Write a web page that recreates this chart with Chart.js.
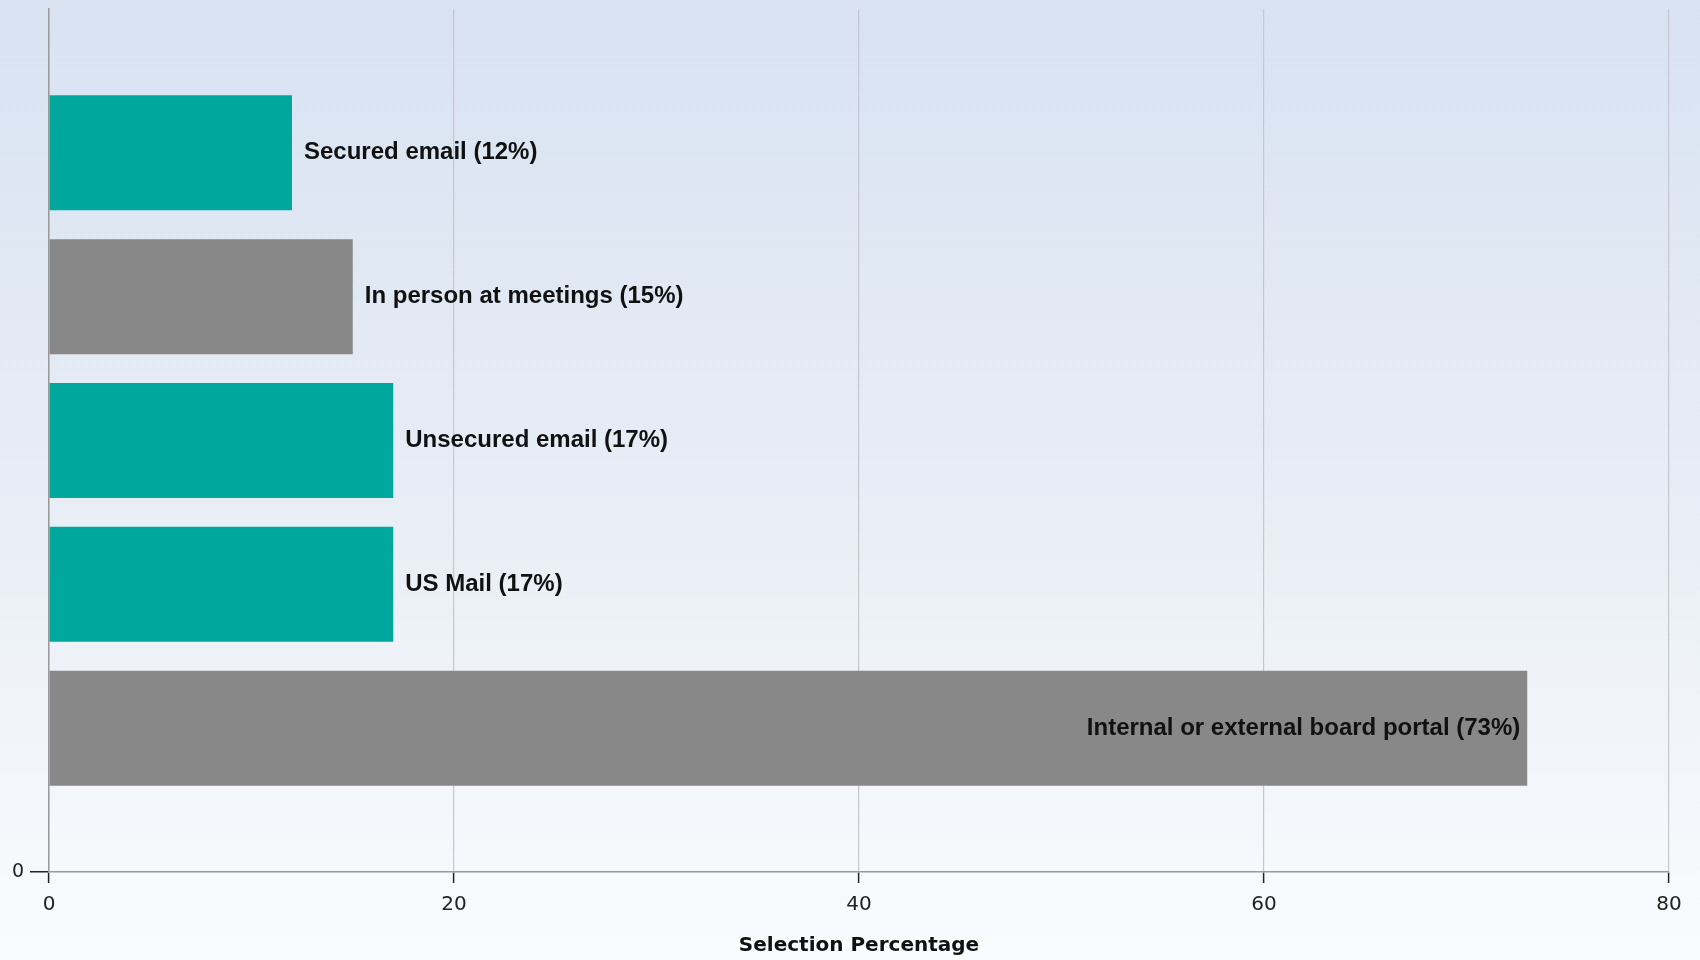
<!DOCTYPE html>
<html>
<head>
<meta charset="utf-8">
<script src="https://cdn.jsdelivr.net/npm/chart.js@4/dist/chart.umd.min.js"></script>
<style>
  html, body { margin: 0; padding: 0; background: #f4f6fb; }
  #wrap { width: 1700px; height: 960px; position: relative; }
</style>
</head>
<body>
<div id="wrap"><canvas id="chartSelection" width="1700" height="960"></canvas></div>
<script>
// ── Veri ─────────────────────────────────────────
const categories = [
  'Secured email',
  'In person at meetings',
  'Unsecured email',
  'US Mail',
  'Internal or external board portal'
];
const percentages = [12, 15, 17, 17, 73];
const barColors   = ['#00a79d', '#888888', '#00a79d', '#00a79d', '#888888'];
const xTicks      = [0, 20, 40, 60, 80];
const yTicks      = [0];

// bars sit on a numeric y axis: first category on top
const points = categories.map((c, i) => ({ x: percentages[i], y: categories.length - i }));

// ── Arka plan degrade ────────────────────────────
const bgPlugin = {
  id: 'bg-gradient',
  beforeDraw(chart) {
    const { ctx: c, width, height } = chart;
    const g = c.createLinearGradient(0, 0, 0, height);
    g.addColorStop(0, '#d8e2f1');
    g.addColorStop(0.5, '#e7edf6');
    g.addColorStop(1, '#fafbfd');
    c.save();
    c.fillStyle = g;
    c.fillRect(0, 0, width, height);
    c.restore();
  }
};

// ── Bar etiketleri ───────────────────────────────
const labelPlugin = {
  id: 'bar-labels',
  afterDatasetsDraw(chart) {
    const { ctx: c, chartArea } = chart;
    const meta = chart.getDatasetMeta(0);
    c.save();
    c.font = 'bold 24px "Liberation Sans", Arial, sans-serif';
    c.fillStyle = '#111';
    c.textBaseline = 'middle';
    meta.data.forEach((bar, i) => {
      const txt = `${categories[i]} (${percentages[i]}%)`;
      const w = c.measureText(txt).width;
      if (bar.x + 12 + w > chartArea.right - 40) {
        c.textAlign = 'right';
        c.fillText(txt, bar.x - 7, bar.y);
      } else {
        c.textAlign = 'left';
        c.fillText(txt, bar.x + 12, bar.y);
      }
    });
    c.restore();
  }
};

new Chart(document.getElementById('chartSelection'), {
  type: 'bar',
  data: {
    datasets: [{
      data: points,
      backgroundColor: barColors,
      borderWidth: 0,
      barPercentage: 0.8,
      categoryPercentage: 1
    }]
  },
  options: {
    indexAxis: 'y',
    responsive: false,
    animation: false,
    layout: { padding: { top: 0, right: 31, left: 0, bottom: 0 } },
    plugins: { legend: { display: false }, tooltip: { enabled: false } },
    scales: {
      x: {
        type: 'linear',
        min: 0, max: 80,
        afterBuildTicks: s => { s.ticks = xTicks.map(v => ({ value: v })); },
        afterFit: s => { s.height = 88; },
        border: { color: '#9a9a9a', width: 1.5 },
        grid: { color: '#c5c8ce', lineWidth: 1.2, tickLength: 11, tickColor: '#222', tickWidth: 1.5 },
        ticks: { color: '#222', padding: 10, font: { family: '"DejaVu Sans", sans-serif', size: 20 } },
        title: {
          display: true,
          text: 'Selection Percentage',
          color: '#111',
          padding: { top: 0, bottom: 2 },
          font: { family: '"DejaVu Sans", sans-serif', size: 20, weight: 'bold' }
        }
      },
      y: {
        type: 'linear',
        min: 0, max: 6,
        reverse: false,
        offset: false,
        afterBuildTicks: s => { s.ticks = yTicks.map(v => ({ value: v })); },
        afterFit: s => { s.width = 49; s.paddingTop = 9; },
        border: { color: '#9a9a9a', width: 1.5 },
        grid: { offset: false, drawOnChartArea: false, tickLength: 19, color: '#222', lineWidth: 1.5 },
        ticks: { color: '#222', padding: 6, font: { family: '"DejaVu Sans", sans-serif', size: 19 } }
      }
    }
  },
  plugins: [bgPlugin, labelPlugin]
});
</script>
</body>
</html>
